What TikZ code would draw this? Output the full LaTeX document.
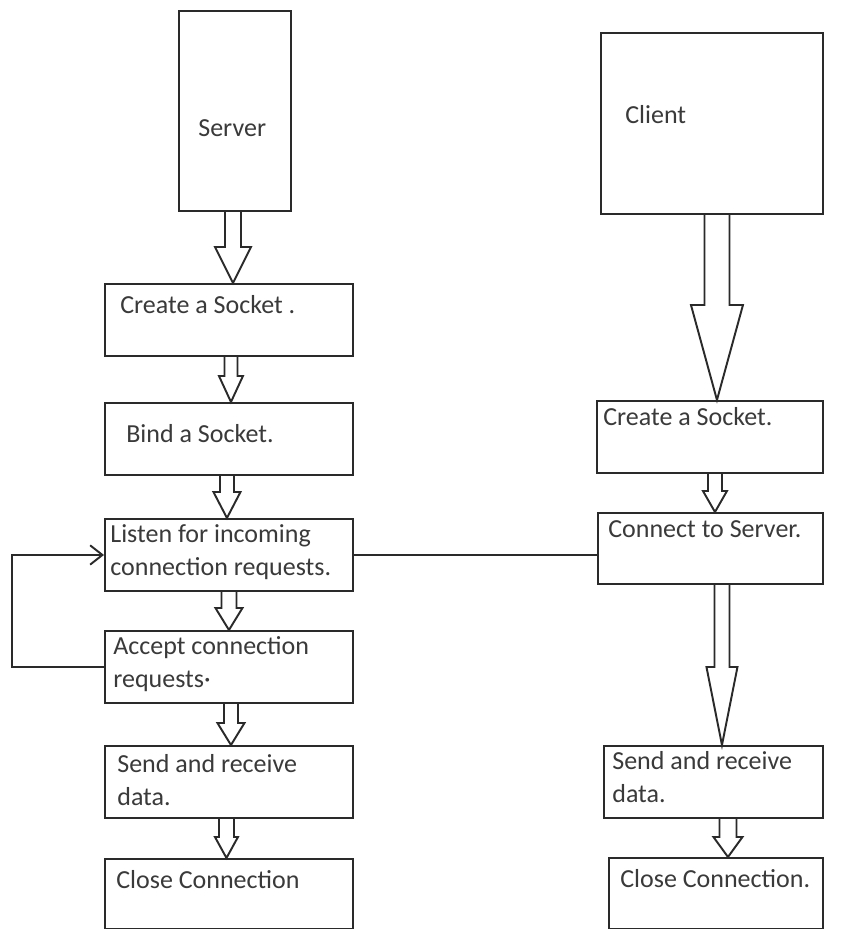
\documentclass[tikz,border=0pt]{standalone}
\usepackage{fontspec}
\setmainfont{Carlito}
\usepackage{tikz}
\usetikzlibrary{arrows.meta,calc}
\definecolor{inkline}{HTML}{2A2A2A}
\definecolor{inktext}{HTML}{3A3A3A}
\def\pxu{0.02cm}
\tikzset{
  stepbox/.style={rectangle, draw=inkline, line width=1.1pt, inner sep=0pt, anchor=north west},
  steptext/.style={inner sep=0pt, anchor=base west, align=left, text=inktext,
                   font=\fontsize{14.8}{18.6}\selectfont},
  blockarrow/.style={draw=inkline, line width=1.1pt, line join=miter},
  link/.style={draw=inkline, line width=1.1pt},
  back/.style={link, -{Straight Barb[length=7pt, width=11pt]}},
}
% hollow arrow: from, to, x offset, shaft half width, head half width, head length
\newcommand{\hollowarrow}[6]{%
  \draw[blockarrow] ($(#1.south)+(#3-#4,0)$) -- ($(#1.south |- #2.north)+(#3-#4,-#6)$) -- ++(#4-#5,0)
    -- ($(#1.south |- #2.north)+(#3,0)$) -- ($(#1.south |- #2.north)+(#3+#5,-#6)$) -- ++(#4-#5,0)
    -- ($(#1.south)+(#3+#4,0)$);
}

\begin{document}
\begin{tikzpicture}[x=0.02cm, y=-0.02cm]
  \fill[white] (0,0) rectangle (846,929);
  \useasboundingbox (0,0) rectangle (846,929);

  % server side
  \node[stepbox, minimum width=112*\pxu, minimum height=200*\pxu] (node1) at (178,10) {};
  \node[stepbox, minimum width=248*\pxu, minimum height=72*\pxu] (node2) at (104,283) {};
  \node[stepbox, minimum width=248*\pxu, minimum height=72*\pxu] (node3) at (104,402) {};
  \node[stepbox, minimum width=248*\pxu, minimum height=72*\pxu] (node4) at (104,518) {};
  \node[stepbox, minimum width=248*\pxu, minimum height=72*\pxu] (node5) at (104,630) {};
  \node[stepbox, minimum width=248*\pxu, minimum height=72*\pxu] (node6) at (104,745) {};
  \node[stepbox, minimum width=248*\pxu, minimum height=70*\pxu] (node7) at (104,858) {};

  % two-line labels sit on the baseline of their last line
  \node[steptext] (node1t) at ($(node1.north west)+(20,127)$) {Server};
  \node[steptext] (node2t) at ($(node2.north west)+(16,30)$) {Create a Socket .};
  \node[steptext] (node3t) at ($(node3.north west)+(22,40)$) {Bind a Socket.};
  \node[steptext] (node4t) at ($(node4.north west)+(6,57)$) {Listen for incoming\\connection requests.};
  \node[steptext] (node5t) at ($(node5.north west)+(9,57)$) {Accept connection\\requests·};
  \node[steptext] (node6t) at ($(node6.north west)+(13,60)$) {Send and receive\\data.};
  \node[steptext] (node7t) at ($(node7.north west)+(12,30)$) {Close Connection};

  % client side
  \node[stepbox, minimum width=222*\pxu, minimum height=181*\pxu] (node8) at (600,32) {};
  \node[stepbox, minimum width=226*\pxu, minimum height=72*\pxu] (node9) at (596,400) {};
  \node[stepbox, minimum width=225*\pxu, minimum height=71*\pxu] (node10) at (597,512) {};
  \node[stepbox, minimum width=219*\pxu, minimum height=72*\pxu] (node11) at (603,745) {};
  \node[stepbox, minimum width=214*\pxu, minimum height=71*\pxu] (node12) at (608,857) {};

  \node[steptext] (node8t) at ($(node8.north west)+(25,92)$) {Client};
  \node[steptext] (node9t) at ($(node9.north west)+(7,25)$) {Create a Socket.};
  \node[steptext] (node10t) at ($(node10.north west)+(11,25)$) {Connect to Server.};
  \node[steptext] (node11t) at ($(node11.north west)+(9,57)$) {Send and receive\\data.};
  \node[steptext] (node12t) at ($(node12.north west)+(12,30)$) {Close Connection.};

  \hollowarrow{node1}{node2}{-2}{8}{18}{36}
  \hollowarrow{node2}{node3}{2}{6.5}{12}{26}
  \hollowarrow{node3}{node4}{-2}{7}{13.5}{26}
  \hollowarrow{node4}{node5}{0}{7.5}{13.5}{22}
  \hollowarrow{node5}{node6}{2}{7}{13.5}{22}
  \hollowarrow{node6}{node7}{-2.5}{7.5}{11.5}{21}
  \hollowarrow{node8}{node9}{5}{12.5}{26}{95}
  \hollowarrow{node9}{node10}{5}{7}{12}{21}
  \hollowarrow{node10}{node11}{11.5}{7.5}{15.5}{78}
  \hollowarrow{node11}{node12}{14.5}{8.5}{14.5}{20}

  \draw[back] (node5.west) -- ++(-92,0) |- (node4.west);
  \draw[link] (node4.east) -- (node4.east -| node10.west);
\end{tikzpicture}
\end{document}
